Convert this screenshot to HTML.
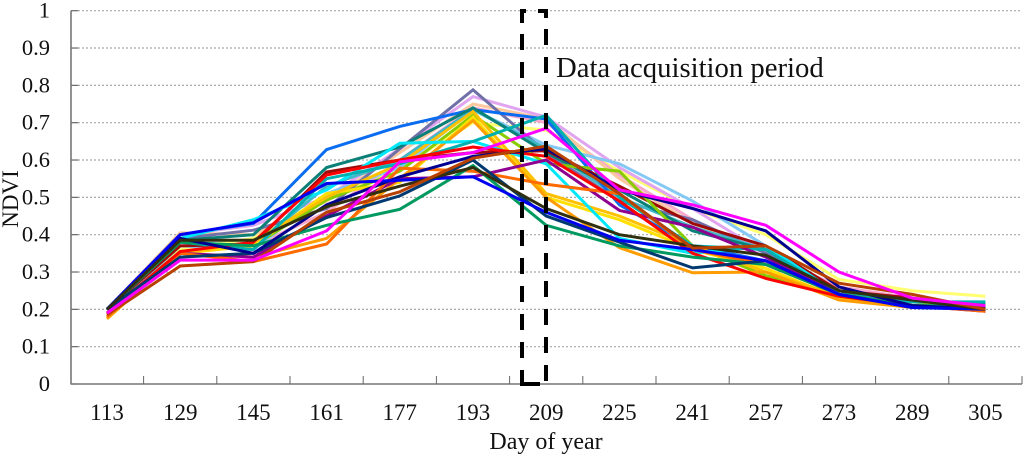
<!DOCTYPE html>
<html lang="en">
<head>
<meta charset="utf-8">
<title>NDVI by day of year</title>
<style>
html,body{margin:0;padding:0;background:#fff;width:1024px;height:457px;overflow:hidden}
svg{display:block;font-family:"Liberation Serif",serif;fill:#111}
</style>
</head>
<body>
<svg id="chart" xmlns="http://www.w3.org/2000/svg" width="1024" height="457" viewBox="0 0 1024 457">
  <g id="grid"></g>
  <g id="series"></g>
  <g id="axes"></g>
  <g fill="none" stroke="#000" stroke-width="4">
    <path d="M522 23V11H526M538 11H546V18"/>
    <path d="M522 34V370" stroke-dasharray="16 12"/>
    <path d="M522 370V384H540"/>
    <path d="M546 29V381" stroke-dasharray="16 12"/>
  </g>
  <text x="556" y="77" font-size="28.7">Data acquisition period</text>
  <text x="546" y="449" font-size="24" text-anchor="middle">Day of year</text>
  <text transform="translate(18 199) rotate(-90)" font-size="23" text-anchor="middle">NDVI</text>
</svg>
<script>
const days = [113,129,145,161,177,193,209,225,241,257,273,289,305];
const yTicks = ['0','0.1','0.2','0.3','0.4','0.5','0.6','0.7','0.8','0.9','1'];
const seriesNames = ['pale-yellow','pink','peach','lilac','sky','slate','teal-light','bright-blue','dark-teal','dark-red','lime','yellow','amber','orange','cyan','teal-cyan','purple','orange-red','red','green','dark-navy','navy','blue','olive','brown','magenta'];
const seriesColors = ['#ffff70','#f8a8cc','#fcc8a0','#e0a4f0','#84c8f4','#7070a8','#40b8c8','#0a6cf0','#0a8078','#9c0a0a','#88cc00','#ffe000','#ffc000','#ff9c00','#00e8f8','#00b0b0','#900090','#ff6a00','#ff0000','#009a60','#003870','#000090','#0000f0','#303010','#b84000','#ff00ff'];
const paleYellow = [.18,.36,.39,.50,.58,.70,.68,.57,.47,.40,.28,.25,.235];
const pink = [.19,.35,.37,.46,.60,.74,.70,.56,.44,.35,.26,.23,.20];
const peach = [.20,.405,.40,.49,.62,.75,.71,.55,.43,.36,.25,.22,.21];
const lilac = [.20,.40,.425,.50,.63,.77,.715,.58,.47,.35,.25,.22,.20];
const sky = [.19,.37,.36,.51,.58,.735,.64,.59,.49,.37,.24,.21,.20];
const slate = [.20,.39,.412,.47,.63,.788,.62,.49,.44,.35,.25,.21,.20];
const tealLight = [.20,.38,.37,.53,.60,.735,.63,.50,.42,.36,.24,.21,.21];
const brightBlue = [.20,.40,.43,.628,.69,.735,.71,.48,.37,.33,.25,.205,.20];
const darkTeal = [.20,.385,.40,.58,.635,.74,.62,.52,.41,.36,.25,.22,.215];
const darkRed = [.20,.37,.375,.568,.60,.62,.625,.53,.43,.37,.25,.23,.20];
const lime = [.19,.355,.37,.493,.57,.72,.59,.57,.37,.29,.24,.22,.21];
const yellow = [.175,.35,.37,.51,.54,.715,.50,.44,.36,.31,.23,.205,.21];
const amber = [.18,.35,.38,.50,.59,.73,.51,.45,.37,.30,.235,.21,.21];
const orange = [.175,.35,.34,.39,.55,.706,.50,.365,.298,.30,.225,.205,.205];
const cyan = [.20,.39,.44,.52,.645,.65,.59,.39,.35,.37,.24,.21,.20];
const tealCyan = [.20,.38,.36,.55,.59,.65,.72,.50,.37,.36,.24,.22,.22];
const purple = [.19,.35,.34,.45,.55,.555,.60,.465,.42,.34,.24,.21,.195];
const orangeRed = [.18,.35,.328,.375,.578,.57,.535,.51,.36,.32,.24,.21,.195];
const red = [.19,.355,.38,.56,.60,.635,.61,.49,.35,.283,.235,.21,.205];
const green = [.20,.38,.37,.425,.468,.585,.425,.37,.34,.32,.24,.21,.21];
const darkNavy = [.20,.34,.35,.446,.504,.60,.45,.38,.311,.33,.24,.205,.205];
const navy = [.20,.39,.35,.48,.555,.61,.63,.52,.47,.41,.26,.21,.20];
const blue = [.20,.40,.432,.537,.546,.555,.46,.385,.36,.33,.24,.205,.20];
const olive = [.20,.385,.385,.475,.53,.58,.47,.40,.37,.345,.25,.225,.20];
const brown = [.185,.316,.328,.46,.515,.605,.637,.51,.364,.37,.27,.24,.20];
const magenta = [.19,.332,.332,.41,.595,.62,.685,.52,.48,.425,.30,.23,.21];
const seriesValues = [paleYellow,pink,peach,lilac,sky,slate,tealLight,brightBlue,darkTeal,darkRed,lime,yellow,amber,orange,cyan,tealCyan,purple,orangeRed,red,green,darkNavy,navy,blue,olive,brown,magenta];

const NS = 'http://www.w3.org/2000/svg';
const xPos = i => 107 + 73.2 * i;
const yPos = v => 384 - 373.3 * v;
const make = (tag, parent) => { const el = document.createElementNS(NS, tag); parent.appendChild(el); return el; };
const gridG = document.getElementById('grid');
const seriesG = document.getElementById('series');
const axesG = document.getElementById('axes');

yTicks.forEach((label, i) => {
  const v = Number(label);
  if (v > 0) {
    const line = make('line', gridG);
    
    
    line.setAttribute('x1', 78); line.setAttribute('x2', 1022);
    line.setAttribute('y1', yPos(v)); line.setAttribute('y2', yPos(v));
    line.setAttribute('stroke', '#a8a8a8');
    line.setAttribute('stroke-width', '1.2');
    line.setAttribute('stroke-dasharray', '2 2');
  }
  const tick = make('line', axesG);
  
  
  tick.setAttribute('x1', 71); tick.setAttribute('x2', 78);
  tick.setAttribute('y1', yPos(v)); tick.setAttribute('y2', yPos(v));
  tick.setAttribute('stroke', '#666');
  tick.setAttribute('stroke-width', '1.2');
  const text = make('text', axesG);
  
  
  text.setAttribute('x', 50); text.setAttribute('y', yPos(v) + 7);
  text.setAttribute('text-anchor', 'end');
  text.setAttribute('font-size', '22.5');
  text.textContent = label;
});

seriesValues.forEach((vals, s) => {
  const line = make('polyline', seriesG);
  
  
  line.setAttribute('points', vals.map((v, i) => xPos(i).toFixed(1) + ',' + yPos(v).toFixed(1)).join(' '));
  line.setAttribute('fill', 'none');
  line.setAttribute('stroke', seriesColors[s]);
  line.setAttribute('stroke-width', '3');
  line.setAttribute('stroke-linejoin', 'miter');
});

const yAxis = make('line', axesG);


yAxis.setAttribute('x1', 71); yAxis.setAttribute('x2', 71);
yAxis.setAttribute('y1', yPos(1)); yAxis.setAttribute('y2', 384.5);
yAxis.setAttribute('stroke', '#777');
yAxis.setAttribute('stroke-width', '1.6');

const xAxis = make('line', axesG);


xAxis.setAttribute('x1', 71); xAxis.setAttribute('x2', 1022);
xAxis.setAttribute('y1', 384); xAxis.setAttribute('y2', 384);
xAxis.setAttribute('stroke', '#777');
xAxis.setAttribute('stroke-width', '1.6');

days.forEach((d, i) => {
  const tick = make('line', axesG);
  
  
  tick.setAttribute('x1', xPos(i) + 36.6); tick.setAttribute('x2', xPos(i) + 36.6);
  tick.setAttribute('y1', 376); tick.setAttribute('y2', 384);
  tick.setAttribute('stroke', '#666');
  tick.setAttribute('stroke-width', '1');
  const text = make('text', axesG);
  
  
  text.setAttribute('x', xPos(i)); text.setAttribute('y', 420);
  text.setAttribute('text-anchor', 'middle');
  text.setAttribute('font-size', '23');
  text.textContent = String(d);
});
</script>
</body>
</html>
